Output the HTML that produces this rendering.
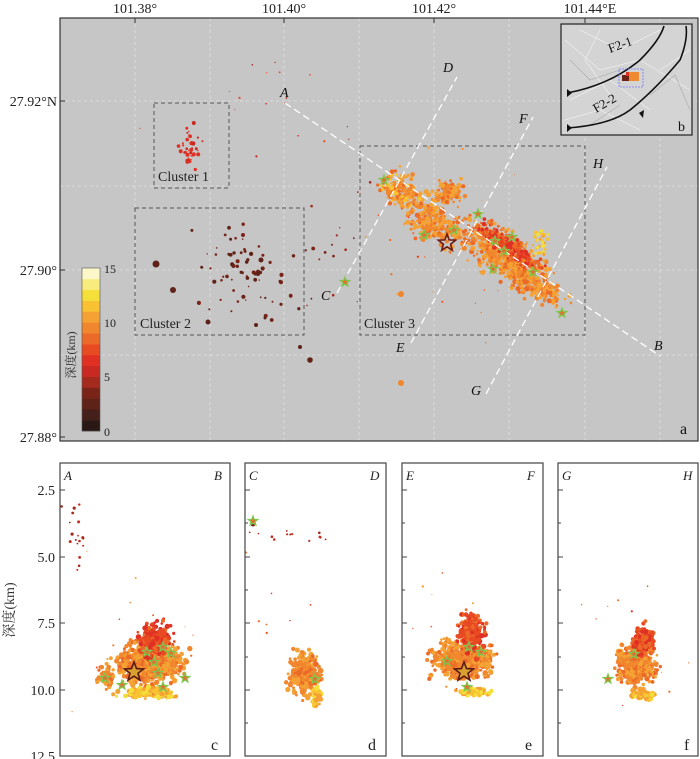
<!DOCTYPE html>
<html><head><meta charset="utf-8"><style>
body{margin:0;background:#fff;}
svg{display:block;font-family:"Liberation Serif","Noto Serif CJK SC",serif;}
</style></head><body>
<svg id="s" width="700" height="759" viewBox="0 0 700 759" xmlns="http://www.w3.org/2000/svg">
<defs>
<clipPath id="cm"><rect x="60" y="18" width="638" height="423"/></clipPath>
<clipPath id="cc"><rect x="60" y="463" width="170" height="293"/></clipPath>
<clipPath id="cd"><rect x="245" y="463" width="141" height="293"/></clipPath>
<clipPath id="ce"><rect x="402" y="463" width="141" height="293"/></clipPath>
<clipPath id="cf"><rect x="558" y="463" width="140" height="293"/></clipPath>
</defs>
<rect x="60" y="18" width="638" height="423" fill="#c6c6c6"/>
<g stroke="#e2e2e2" stroke-width="0.8" stroke-dasharray="3,3">
<line x1="135" y1="18" x2="135" y2="441"/><line x1="210" y1="18" x2="210" y2="441"/><line x1="284" y1="18" x2="284" y2="441"/><line x1="359" y1="18" x2="359" y2="441"/><line x1="434" y1="18" x2="434" y2="441"/><line x1="509" y1="18" x2="509" y2="441"/><line x1="585" y1="18" x2="585" y2="441"/><line x1="660" y1="18" x2="660" y2="441"/>
<line x1="60" y1="101" x2="698" y2="101"/><line x1="60" y1="186" x2="698" y2="186"/><line x1="60" y1="270" x2="698" y2="270"/><line x1="60" y1="355" x2="698" y2="355"/>
</g>
<g id="mapdots" clip-path="url(#cm)"></g>
<g fill="none" stroke="#555" stroke-width="1" stroke-dasharray="4,3">
<rect x="154" y="103" width="75" height="85"/><rect x="135" y="208" width="169" height="127"/><rect x="360" y="146" width="225" height="189"/>
</g>
<g font-size="14" fill="#222"><text x="158" y="181">Cluster 1</text><text x="140" y="328">Cluster 2</text><text x="364" y="328">Cluster 3</text></g>
<g stroke="#fff" stroke-width="1.3" stroke-dasharray="7,4">
<line x1="285" y1="103" x2="660" y2="356"/><line x1="337" y1="293" x2="457" y2="77"/><line x1="411" y1="343" x2="533" y2="117"/><line x1="486" y1="394" x2="607" y2="167"/>
</g>
<g font-size="14" font-style="italic" fill="#111"><text x="280" y="97">A</text><text x="654" y="350">B</text><text x="321" y="300">C</text><text x="443" y="72">D</text><text x="396" y="352">E</text><text x="519" y="123">F</text><text x="471" y="395">G</text><text x="593" y="168">H</text></g>
<g id="stars"></g>
<!-- inset -->
<rect x="561" y="24" width="131" height="111" fill="#d4d4d4" stroke="#222" stroke-width="1.2"/>
<g stroke="#f2f2f2" stroke-width="0.7" fill="none" opacity="0.9"><path d="M565 40 L600 70 L640 60 L690 90"/><path d="M570 100 L610 80 L650 110"/><path d="M580 30 L620 50 L660 30"/><path d="M565 120 L600 110 L640 130"/><path d="M600 30 L585 60 L610 95"/><path d="M660 70 L690 50"/></g>
<g stroke="#aaa" stroke-width="0.6" fill="none"><path d="M570 60 L590 80 L620 70"/><path d="M650 95 L675 75 L690 110"/><path d="M590 125 L620 105"/></g>
<path d="M567 93 Q610 85 640 60 Q660 40 664 26" fill="none" stroke="#111" stroke-width="1.6"/>
<path d="M567 128 Q610 125 630 110 Q655 90 680 60 Q688 40 686 26" fill="none" stroke="#111" stroke-width="1.6"/>
<polygon points="567,89 572,93 567,97" fill="#111"/><polygon points="567,124 572,128 567,132" fill="#111"/><polygon points="639,113 644,110 643,118" fill="#111"/>
<rect x="619" y="69" width="24" height="18" fill="none" stroke="#77f" stroke-width="0.8" stroke-dasharray="2,1"/>
<rect x="622" y="75" width="8" height="6" fill="#6b2318"/><rect x="629" y="72" width="10" height="9" fill="#f08a30"/><rect x="626" y="72" width="3" height="4" fill="#e03020"/>
<text x="610" y="53" font-size="13" fill="#111" transform="rotate(-20 610 53)">F2-1</text>
<text x="596" y="113" font-size="13" fill="#111" transform="rotate(-30 596 113)">F2-2</text>
<text x="678" y="131" font-size="14" fill="#111">b</text>
<text x="680" y="434" font-size="16" fill="#111">a</text>
<!-- colorbar -->
<g id="cbar"></g>
<rect x="82" y="268" width="18" height="163" fill="none" stroke="#555" stroke-width="0.6"/>
<g font-size="12" fill="#222"><text x="104" y="273">15</text><text x="104" y="327">10</text><text x="104" y="381">5</text><text x="104" y="436">0</text></g>
<text x="75" y="355" font-size="12" fill="#333" transform="rotate(-90 75 355)" text-anchor="middle">深度(km)</text>
<rect x="60" y="18" width="638" height="423" fill="none" stroke="#333" stroke-width="1.2"/>
<g stroke="#333" stroke-width="1"><line x1="135" y1="18" x2="135" y2="23"/><line x1="284" y1="18" x2="284" y2="23"/><line x1="434" y1="18" x2="434" y2="23"/><line x1="585" y1="18" x2="585" y2="23"/>
<line x1="60" y1="101" x2="65" y2="101"/><line x1="60" y1="270" x2="65" y2="270"/><line x1="60" y1="437" x2="65" y2="437"/></g>
<g font-size="14" fill="#222" text-anchor="middle"><text x="135" y="13">101.38°</text><text x="284" y="13">101.40°</text><text x="434" y="13">101.42°</text><text x="590" y="13">101.44°E</text></g>
<g font-size="14" fill="#222" text-anchor="end"><text x="57" y="106">27.92°N</text><text x="57" y="275">27.90°</text><text x="57" y="442">27.88°</text></g>
<!-- sections -->
<g id="secs"></g>
<g fill="none" stroke="#444" stroke-width="1.2"><rect x="60" y="463" width="170" height="293"/><rect x="245" y="463" width="141" height="293"/><rect x="402" y="463" width="141" height="293"/><rect x="558" y="463" width="140" height="293"/></g>
<g stroke="#444" stroke-width="1">
<line x1="60" y1="490" x2="65" y2="490"/><line x1="60" y1="557" x2="65" y2="557"/><line x1="60" y1="623" x2="65" y2="623"/><line x1="60" y1="690" x2="65" y2="690"/>
<line x1="245" y1="490" x2="250" y2="490"/><line x1="245" y1="523" x2="248" y2="523"/><line x1="245" y1="557" x2="250" y2="557"/><line x1="245" y1="590" x2="248" y2="590"/><line x1="245" y1="623" x2="250" y2="623"/><line x1="245" y1="657" x2="248" y2="657"/><line x1="245" y1="690" x2="250" y2="690"/><line x1="245" y1="723" x2="248" y2="723"/>
<line x1="402" y1="490" x2="407" y2="490"/><line x1="402" y1="523" x2="405" y2="523"/><line x1="402" y1="557" x2="407" y2="557"/><line x1="402" y1="590" x2="405" y2="590"/><line x1="402" y1="623" x2="407" y2="623"/><line x1="402" y1="657" x2="405" y2="657"/><line x1="402" y1="690" x2="407" y2="690"/><line x1="402" y1="723" x2="405" y2="723"/>
<line x1="558" y1="490" x2="563" y2="490"/><line x1="558" y1="523" x2="561" y2="523"/><line x1="558" y1="557" x2="563" y2="557"/><line x1="558" y1="590" x2="561" y2="590"/><line x1="558" y1="623" x2="563" y2="623"/><line x1="558" y1="657" x2="561" y2="657"/><line x1="558" y1="690" x2="563" y2="690"/><line x1="558" y1="723" x2="561" y2="723"/>
</g>
<g font-size="14" fill="#222" text-anchor="end"><text x="55" y="495">2.5</text><text x="55" y="562">5.0</text><text x="55" y="628">7.5</text><text x="55" y="695">10.0</text><text x="55" y="761">12.5</text></g>
<text x="14" y="610" font-size="14" fill="#333" transform="rotate(-90 14 610)" text-anchor="middle">深度(km)</text>
<g font-size="13" font-style="italic" fill="#222"><text x="64" y="480">A</text><text x="214" y="480">B</text><text x="249" y="480">C</text><text x="370" y="480">D</text><text x="406" y="480">E</text><text x="527" y="480">F</text><text x="562" y="480">G</text><text x="683" y="480">H</text></g>
<g font-size="16" fill="#222"><text x="211" y="750">c</text><text x="368" y="750">d</text><text x="525" y="750">e</text><text x="684" y="750">f</text></g>
</svg>
<script>
var seed=7;function r(){seed=(seed*16807)%2147483647;return seed/2147483647;}
function g(){return (r()+r()+r()-1.5)*1.6;}
var NS="http://www.w3.org/2000/svg";
function add(p,tag,a){var e=document.createElementNS(NS,tag);for(var k in a)e.setAttribute(k,a[k]);p.appendChild(e);return e;}
var cols=["#1a1210","#2a1814","#45201a","#5e2218","#7a2418","#a42a1e","#c82a22","#e03024","#e84a22","#ec6a28","#f0862e","#f5a234","#f8c232","#f5df3a","#f8ec7e","#fcf7c8"];
var cb=document.getElementById("cbar");
for(var i=0;i<15;i++)add(cb,"rect",{x:82,y:431-(i+1)*163/15,width:18,height:163/15+0.3,fill:cols[i+1]});
var md=document.getElementById("mapdots");
function cloud(par,n,cx,cy,sx,sy,ang,colset,rmin,rmax){var c=Math.cos(ang),s=Math.sin(ang);
for(var i=0;i<n;i++){var u=g()*sx,v=g()*sy;var x=cx+u*c-v*s,y=cy+u*s+v*c;
add(par,"circle",{cx:x.toFixed(1),cy:y.toFixed(1),r:(rmin+r()*(rmax-rmin)).toFixed(1),fill:colset[Math.floor(r()*colset.length)]});}}
var orr=["#f0862e","#f5a234","#f5a234","#ec6a28","#f0862e"],red=["#e84a22","#ec6a28","#e03024"],yel=["#f8c232","#f5a234","#f5df3a"];
var a=Math.atan2(138,187);
cloud(md,600,507,258,28,12,a,orr,1,2.6);
cloud(md,300,510,248,22,5,a,red,1,2.3);
cloud(md,260,435,222,20,12,a,orr,1,2.6);
cloud(md,150,400,190,12,9,a,orr.concat(["#f8c232"]),1,2.6);
cloud(md,100,450,193,8,7,0,orr,1,2.4);
cloud(md,90,540,288,18,8,a,orr,1,2.6);
cloud(md,30,540,245,5,10,0,yel,1,2);
cloud(md,25,455,260,60,60,0,orr.concat(red),0.5,1.2);
cloud(md,35,190,150,7,16,0,["#e03024","#c82a22"],0.6,2.2);
cloud(md,70,245,270,35,28,0,["#7a2418","#6b2318","#5e2218"],0.7,2.2);
cloud(md,20,255,130,70,40,0,["#c82a22","#a42a1e","#e84a22"],0.5,1.1);
cloud(md,15,330,240,25,40,0,["#7a2418","#a42a1e"],0.6,1.4);
[[156,264,3.5],[173,290,3],[208,322,2.5],[310,360,2.8],[300,347,2],[256,325,2],[265,318,1.5],[261,260,2.5],[258,274,2]].forEach(function(p){add(md,"circle",{cx:p[0],cy:p[1],r:p[2],fill:"#5e2218"});});
add(md,"circle",{cx:401,cy:294,r:3,fill:"#f0862e"});add(md,"circle",{cx:401,cy:383,r:3,fill:"#f0862e"});
function star(par,x,y,R,fill,stroke,sw){var p=[];for(var i=0;i<10;i++){var rr=i%2?R*0.42:R;var t=-Math.PI/2+i*Math.PI/5;p.push((x+rr*Math.cos(t)).toFixed(1)+","+(y+rr*Math.sin(t)).toFixed(1));}
add(par,"polygon",{points:p.join(" "),fill:fill,stroke:stroke,"stroke-width":sw});}
var st=document.getElementById("stars");
[[384,180],[424,235],[454,230],[478,214],[495,241],[504,251],[512,237],[493,269],[533,272],[562,313],[345,282]].forEach(function(p){star(st,p[0],p[1],5,"#e07030","#7ec850",1.2);});
star(st,447,243,9,"none","#6b1a14",1.6);
var sc=document.getElementById("secs");
function sec(clip,items){var gg=add(sc,"g",{"clip-path":"url(#"+clip+")"});items.forEach(function(it){cloud.apply(null,[gg].concat(it));});return gg;}
var gc=sec("cc",[[650,150,664,18,11,0,orr,1.2,2.8],[260,156,640,9,11,0,red,1.2,2.8],[160,150,693,18,3,0,yel,1.2,2.8],[80,107,677,5,6,0,orr,1.2,2.8],[18,75,540,8,22,0,["#c82a22","#a42a1e"],0.8,1.6],[15,140,640,50,50,0,orr.concat(red),0.5,1.2]]);
var gd=sec("cd",[[260,304,675,9,13,0,orr,1.2,2.8],[60,317,697,3,5,0,yel,1.2,2.8],[14,300,535,40,4,0,["#c82a22","#a42a1e"],0.8,1.5],[8,290,620,30,40,0,red,0.6,1.2]]);
var ge=sec("ce",[[600,462,660,17,10,0,orr,1.2,2.8],[200,472,634,7,11,0,red,1.2,2.8],[80,474,692,9,2.5,0,yel,1.2,2.8],[15,460,620,50,50,0,orr.concat(red),0.5,1.2]]);
var gf=sec("cf",[[450,636,665,11,12,0,orr,1.2,2.8],[130,643,640,6,9,0,red,1.2,2.6],[80,641,695,8,2.5,0,yel,1.2,2.8],[12,630,640,40,40,0,red,0.5,1.1]]);
add(gd,"circle",{cx:253,cy:524,r:2.5,fill:"#7a2418"});
[[gc,[[105,678],[122,685],[147,652],[154,662],[163,647],[171,653],[158,673],[163,687],[185,678]]],[gd,[[315,679],[253,521]]],[ge,[[447,661],[469,647],[481,652],[467,687]]],[gf,[[608,679],[634,654]]]].forEach(function(q){q[1].forEach(function(p){star(q[0],p[0],p[1],5,"#e07030","#7ec850",1.2);});});
star(gc,134,672,10,"#d8a030","#5a1a14",1.6);star(ge,464,672,10,"#d8a030","#5a1a14",1.6);
</script>
</body></html>
